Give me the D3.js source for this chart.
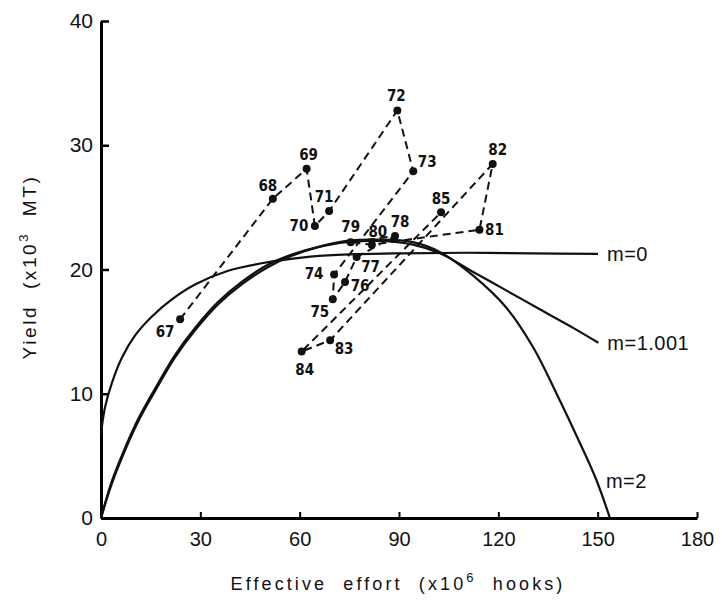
<!DOCTYPE html>
<html>
<head>
<meta charset="utf-8">
<script src="https://cdn.jsdelivr.net/npm/d3@7"></script>
<style>
  body { margin: 0; background: #fff; }
  text { font-family: "Liberation Sans", Arial, sans-serif; fill: #111; white-space: pre; }
  .pt-label { font-family: "DejaVu Sans Condensed", "Liberation Sans Narrow", sans-serif; font-size: 15px; font-weight: bold; }
</style>
</head>
<body>
<div id="chart"></div>
<script>
// observed catch vs effort, 1967-1985
const years = [67, 68, 69, 70, 71, 72, 73, 74, 75, 76, 77, 78, 79, 80, 81, 82, 83, 84, 85];
const effort = [23.9, 51.9, 62.1, 64.6, 68.9, 89.5, 94.3, 70.4, 70.0, 73.7, 77.2, 88.8, 75.4, 81.8, 114.3, 118.3, 69.2, 60.6, 102.7];
const yields = [16.0, 25.7, 28.1, 23.5, 24.7, 32.8, 27.9, 19.6, 17.6, 19.0, 21.0, 22.7, 22.2, 22.0, 23.2, 28.5, 14.3, 13.4, 24.6];

// equilibrium yield curves
const m0Effort = [0, 1.2, 3.2, 6.3, 10.3, 15.3, 21.4, 28.4, 38.4, 48.5, 58.6, 70, 90, 110, 130, 150.1];
const m0Yield  = [6.8, 8.9, 10.8, 12.9, 14.7, 16.2, 17.6, 18.8, 19.9, 20.5, 20.9, 21.15, 21.3, 21.35, 21.3, 21.25];

const m1Effort = [0, 3.2, 7.2, 11.3, 16.3, 22.3, 28.4, 35.4, 42.5, 50.5, 57.6, 65.5, 74.2, 84.3, 94.2, 102.4, 112.4, 122.5, 132.5, 142.6, 150.2];
const m1Yield  = [0, 2.9, 5.6, 8.0, 10.4, 13.1, 15.3, 17.4, 19.0, 20.4, 21.2, 21.8, 22.2, 22.3, 22.0, 21.3, 19.8, 18.3, 16.8, 15.3, 14.1];

const m2Effort = [0, 3.2, 7.2, 11.3, 16.3, 22.3, 28.4, 35.4, 42.5, 50.5, 57.6, 65.5, 74.2, 84.3, 94.2, 102.4, 112.4, 122.5, 130.6, 137.6, 144.7, 149.7, 153.7];
const m2Yield  = [0, 2.7, 5.4, 7.8, 10.2, 12.9, 15.1, 17.2, 18.8, 20.2, 21.1, 21.8, 22.3, 22.4, 22.2, 21.4, 19.5, 16.9, 13.7, 10.0, 6.0, 3.0, 0];

const curveNames = ["m=0", "m=1.001", "m=2"];
const xTicks = [0, 30, 60, 90, 120, 150, 180];
const yTicks = [0, 10, 20, 30, 40];

// where each year label sits relative to its dot (px)
const labelOffset = {
  67: [-15, 13], 68: [-5, -13], 69: [2, -14], 70: [-16, 0], 71: [-5, -14],
  72: [-1, -15], 73: [14, -10], 74: [-20, -1], 75: [-13, 12], 76: [15, 4],
  77: [14, 10], 78: [5, -14], 79: [0, -15], 80: [6, -13], 81: [15, 0],
  82: [5, -14], 83: [14, 8], 84: [3, 18], 85: [0, -14]
};

const width = 722, height = 601;
const margin = {top: 21, right: 25, bottom: 83, left: 101};

const svg = d3.select("#chart")
  .append("svg")
  .attr("width", width)
  .attr("height", height);

const xScale = d3.scaleLinear()
  .domain([0, 180])
  .range([margin.left, width - margin.right]);

const yScale = d3.scaleLinear()
  .domain([0, 40])
  .range([height - margin.bottom, margin.top]);

// axes, ticks pointing inwards
svg.append("g")
  .attr("transform", `translate(0,${height - margin.bottom})`)
  .call(d3.axisBottom(xScale).tickValues(xTicks).tickSize(-6).tickPadding(14).tickSizeOuter(0))
  .call(g => g.select(".domain").attr("stroke-width", 3))
  .call(g => g.selectAll(".tick line").attr("stroke-width", 2))
  .call(g => g.selectAll(".tick text").attr("font-size", 20).attr("font-family", "Liberation Sans, Arial, sans-serif"));

svg.append("g")
  .attr("transform", `translate(${margin.left},0)`)
  .call(d3.axisLeft(yScale).tickValues(yTicks).tickSize(-8).tickPadding(8).tickSizeOuter(0))
  .call(g => g.select(".domain").attr("stroke-width", 3))
  .call(g => g.selectAll(".tick line").attr("stroke-width", 2.5))
  .call(g => g.selectAll(".tick text").attr("font-size", 21).attr("font-family", "Liberation Sans, Arial, sans-serif"));

// axis titles
const xt = svg.append("text")
  .attr("x", 398)
  .attr("y", 590)
  .attr("text-anchor", "middle")
  .attr("font-size", 18)
  .attr("letter-spacing", 3.1);
xt.append("tspan").text("Effective  effort  (x10");
xt.append("tspan").attr("dy", -8).attr("font-size", 13).text("6");
xt.append("tspan").attr("dy", 8).text("  hooks)");

const yt = svg.append("text")
  .attr("transform", "translate(36,267) rotate(-90)")
  .attr("text-anchor", "middle")
  .attr("font-size", 19)
  .attr("letter-spacing", 2.6);
yt.append("tspan").text("Yield  (x10");
yt.append("tspan").attr("dy", -8).attr("font-size", 13).text("3");
yt.append("tspan").attr("dy", 8).text("  MT)");

// model curves
const line = d3.line()
  .x(d => xScale(d[0]))
  .y(d => yScale(d[1]))
  .curve(d3.curveCatmullRom.alpha(0.5));

const curves = [
  d3.zip(m0Effort, m0Yield),
  d3.zip(m1Effort, m1Yield),
  d3.zip(m2Effort, m2Yield)
];

svg.selectAll(".model")
  .data(curves)
  .enter()
  .append("path")
    .attr("class", "model")
    .attr("d", line)
    .attr("fill", "none")
    .attr("stroke", "#111")
    .attr("stroke-width", 2.2);

// curve labels, next to the right end (m=2 sits above its end)
const curveLabelAt = [
  [m0Effort[m0Effort.length - 1], m0Yield[m0Yield.length - 1]],
  [m1Effort[m1Effort.length - 1], m1Yield[m1Yield.length - 1]],
  [m2Effort[m2Effort.length - 1], 3.0]
];
svg.selectAll(".curve-label")
  .data(curveNames)
  .enter()
  .append("text")
    .attr("class", "curve-label")
    .attr("x", (d, i) => xScale(curveLabelAt[i][0]) + (i == 2 ? -4 : 9))
    .attr("y", (d, i) => yScale(curveLabelAt[i][1]))
    .attr("dy", "0.35em")
    .attr("font-size", 20)
    .attr("letter-spacing", 0.5)
    .text(d => d);

// observed path
const obs = d3.zip(effort, yields);
svg.append("path")
  .datum(obs)
  .attr("d", d3.line().x(d => xScale(d[0])).y(d => yScale(d[1])))
  .attr("fill", "none")
  .attr("stroke", "#111")
  .attr("stroke-width", 2)
  .attr("stroke-dasharray", "8,5");

svg.selectAll(".dot")
  .data(obs)
  .enter()
  .append("circle")
    .attr("class", "dot")
    .attr("r", 4)
    .attr("cx", d => xScale(d[0]))
    .attr("cy", d => yScale(d[1]))
    .attr("fill", "#111");

svg.selectAll(".pt-label")
  .data(years)
  .enter()
  .append("text")
    .attr("class", "pt-label")
    .attr("x", (d, i) => xScale(effort[i]) + labelOffset[d][0])
    .attr("y", (d, i) => yScale(yields[i]) + labelOffset[d][1])
    .attr("text-anchor", "middle")
    .attr("dy", "0.35em")
    .text(d => d);
</script>
</body>
</html>
